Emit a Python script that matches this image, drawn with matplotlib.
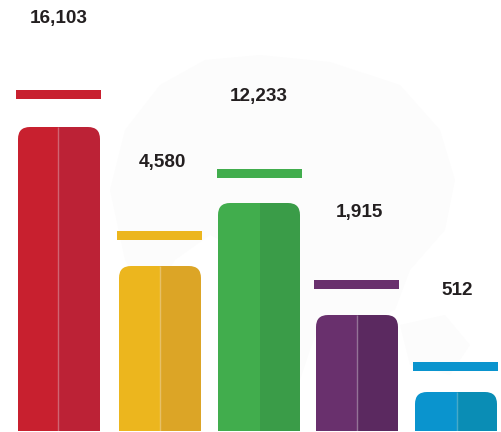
import matplotlib
matplotlib.use("Agg")
import matplotlib.pyplot as plt
from matplotlib.patches import FancyBboxPatch, Polygon

plt.rcParams['font.family'] = ['Liberation Sans', 'DejaVu Sans']

labels = ["16,103", "4,580", "12,233", "1,915", "512"]
bar_heights = [304, 165, 228, 116, 39]          # drawn heights, read in pixels
cap_levels = [338, 197, 259, 148, 66]           # centre of the floating cap
left_edges = [18, 119, 218, 316, 415]
cap_lefts = [16, 117, 217, 314, 413]
split_at = [40, 41, 42, 41, 42]
divider_alpha = [0.3, 0.3, 0.0, 0.35, 0.25]
bar_width = 82
left_colors = ["#C8202F", "#ECB61E", "#41AD4D", "#69306D", "#0A94CE"]
right_colors = ["#BC2236", "#DCA526", "#3A9C48", "#5B2960", "#0A8DB5"]
label_x = [59, 162, 259, 359, 457.5]
label_y = [414, 270, 335.5, 220, 141.5]

fig = plt.figure(figsize=(5.02, 4.32), dpi=100)
ax = fig.add_axes([0, 0, 1, 1])
ax.set_xlim(0, 502)
ax.set_ylim(0, 432)
ax.axis("off")

# faint world-map backdrop
map_shapes = [
    [(110, 190), (125, 130), (160, 85), (205, 60), (260, 55), (330, 62), (400, 85), (440, 130),
     (455, 180), (445, 230), (410, 270), (395, 310), (350, 330), (300, 320), (285, 270), (240, 250),
     (210, 235), (175, 260), (150, 300), (125, 260)],
    [(265, 265), (305, 270), (325, 310), (310, 350), (295, 395), (275, 360), (262, 310)],
    [(400, 325), (445, 315), (470, 345), (450, 375), (410, 365)],
]
for shape in map_shapes:
    ax.add_patch(Polygon([(x, 432 - y) for x, y in shape], closed=True,
                         facecolor="#FCFCFC", edgecolor="none", zorder=0))

for i, lab in enumerate(labels):
    x0, h, s = left_edges[i], bar_heights[i], split_at[i]
    clip = FancyBboxPatch((x0 + 12, 1 - 20), bar_width - 24, h + 20 - 12,
                          boxstyle="round,pad=12,rounding_size=12",
                          transform=ax.transData, facecolor="none", edgecolor="none")
    ax.add_patch(clip)
    b1 = ax.bar(x0, h, width=s, bottom=1, align="edge", color=left_colors[i], linewidth=0, zorder=2)
    b2 = ax.bar(x0 + s, h, width=bar_width - s, bottom=1, align="edge", color=right_colors[i], linewidth=0, zorder=2)
    div = ax.vlines(x0 + s, 1, h + 1, color="white", alpha=divider_alpha[i], linewidth=1, zorder=3)
    for art in (b1[0], b2[0], div):
        art.set_clip_path(clip)
    ax.barh(cap_levels[i], 85, height=9, left=cap_lefts[i], color=left_colors[i], linewidth=0, zorder=2)
    ax.text(label_x[i], label_y[i], lab, ha="center", va="center", fontsize=13.6,
            fontweight="bold", color="#231F20", zorder=4)

fig.savefig("out.png", dpi=100, facecolor="white")
